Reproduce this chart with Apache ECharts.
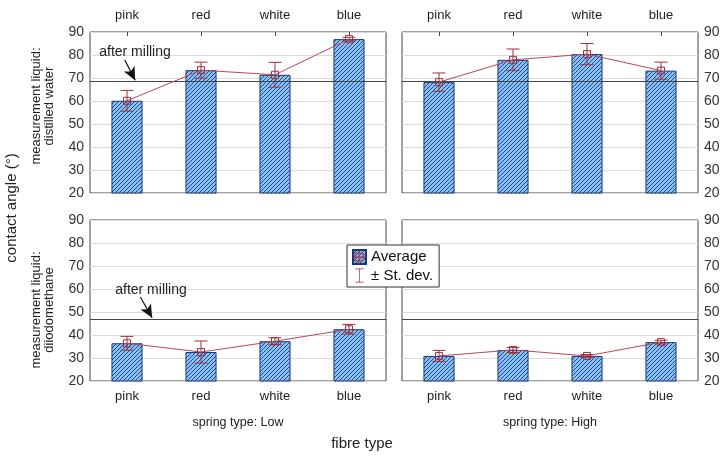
<!DOCTYPE html>
<html><head><meta charset="utf-8">
<script src="https://cdn.jsdelivr.net/npm/echarts@6/dist/echarts.min.js"></script>
<style>html,body{margin:0;padding:0;background:#fff}#c{width:727px;height:459px}</style>
</head><body><div id="c"></div>
<script>
const categories = ['pink', 'red', 'white', 'blue'];
const waterLowMean = [60.1, 73.4, 71.4, 86.9];
const waterLowSd = [4.5, 3.5, 5.4, 0.8];
const waterHighMean = [68.2, 77.9, 80.4, 73.2];
const waterHighSd = [4.0, 4.7, 4.6, 3.7];
const diioLowMean = [36.4, 32.6, 37.3, 42.5];
const diioLowSd = [3.0, 4.8, 1.5, 2.1];
const diioHighMean = [30.9, 33.5, 30.9, 36.9];
const diioHighSd = [2.4, 1.1, 0.6, 0.8];
const afterMilling = [68.4, 46.9];
const yTicks = [20, 90, 10];

const FONT = 'Liberation Sans, Arial, sans-serif';
const chart = echarts.init(document.getElementById('c'));

// hatched pattern
const pc = document.createElement('canvas');
pc.width = 4; pc.height = 4;
const ctx = pc.getContext('2d');
ctx.fillStyle = '#86c3f4';
ctx.fillRect(0, 0, 4, 4);
ctx.strokeStyle = '#27488e';
ctx.lineWidth = 1;
ctx.beginPath();
ctx.moveTo(-1, 5); ctx.lineTo(5, -1);
ctx.moveTo(-3, 3); ctx.lineTo(3, -3);
ctx.moveTo(1, 7); ctx.lineTo(7, 1);
ctx.stroke();
const pattern = { image: pc, repeat: 'repeat' };

const grids = [
  { left: 90, top: 32, width: 296, height: 161 },
  { left: 402, top: 32, width: 296, height: 161 },
  { left: 90, top: 220, width: 296, height: 161 },
  { left: 402, top: 220, width: 296, height: 161 }
].map(g => Object.assign({ show: true, borderColor: '#444', borderWidth: 1, backgroundColor: '#fff' }, g));

const panels = [
  { mean: waterLowMean, sd: waterLowSd, mill: afterMilling[0] },
  { mean: waterHighMean, sd: waterHighSd, mill: afterMilling[0] },
  { mean: diioLowMean, sd: diioLowSd, mill: afterMilling[1] },
  { mean: diioHighMean, sd: diioHighSd, mill: afterMilling[1] }
];

const xAxis = [], yAxis = [], series = [];
panels.forEach((p, i) => {
  const top = i < 2;
  xAxis.push({
    type: 'category', gridIndex: i, data: categories, position: top ? 'top' : 'bottom',
    axisLine: { show: false },
    axisTick: { show: true, inside: true, alignWithLabel: true, length: 4, lineStyle: { color: '#444' } },
    axisLabel: { color: '#222', fontSize: 13, fontFamily: FONT, margin: top ? 10 : 9 }
  });
  yAxis.push({
    type: 'value', gridIndex: i, min: yTicks[0], max: yTicks[1], interval: yTicks[2],
    position: (i % 2 === 0) ? 'left' : 'right',
    axisLine: { show: false }, axisTick: { show: false },
    axisLabel: { color: '#333', fontSize: 14, fontFamily: FONT, margin: 6 },
    splitLine: { show: true, lineStyle: { color: '#dcdcdc', width: 1 } }
  });
});
// hidden value axes for annotations
[0, 2].forEach(g => {
  xAxis.push({ type: 'value', gridIndex: g, min: -0.5, max: 3.5, show: false });
});

panels.forEach((p, i) => {
  series.push({
    name: 'Average', type: 'bar', xAxisIndex: i, yAxisIndex: i,
    data: p.mean, barWidth: '42%',
    itemStyle: { color: pattern, borderColor: '#1b3570', borderWidth: 1 },
    markLine: {
      silent: true, symbol: 'none', label: { show: false },
      lineStyle: { color: '#444', width: 1.2, type: 'solid' },
      data: [{ yAxis: p.mill }]
    },
    z: 2
  });
  series.push({
    name: '± St. dev.', type: 'custom', xAxisIndex: i, yAxisIndex: i,
    itemStyle: { color: '#a0303c' },
    data: p.mean.map((m, k) => [k, m, p.sd[k]]),
    renderItem: function (params, api) {
      const x = api.value(0), m = api.value(1), s = api.value(2);
      const t = api.coord([x, m + s]), b = api.coord([x, m - s]);
      const hw = 6.5;
      const st = { stroke: '#a0303c', lineWidth: 1 };
      return { type: 'group', children: [
        { type: 'line', shape: { x1: t[0], y1: t[1], x2: b[0], y2: b[1] }, style: st },
        { type: 'line', shape: { x1: t[0] - hw, y1: t[1], x2: t[0] + hw, y2: t[1] }, style: st },
        { type: 'line', shape: { x1: b[0] - hw, y1: b[1], x2: b[0] + hw, y2: b[1] }, style: st }
      ]};
    },
    z: 4
  });
  series.push({
    name: 'mean', type: 'line', xAxisIndex: i, yAxisIndex: i,
    data: p.mean, symbol: 'rect', symbolSize: 7, showSymbol: true,
    lineStyle: { color: '#b5485a', width: 1 },
    itemStyle: { color: 'rgba(255,255,255,0)', borderColor: '#a0303c', borderWidth: 1 },
    z: 5
  });
});

// arrows
const arrows = [
  { g: 0, xi: 4, yi: 0, from: [-0.03, 77.8], to: [0.11, 69.0] },
  { g: 2, xi: 5, yi: 2, from: [0.18, 56.5], to: [0.34, 47.5] }
];
arrows.forEach(a => {
  series.push({
    type: 'scatter', xAxisIndex: a.xi, yAxisIndex: a.yi, data: [a.from], symbolSize: 0, silent: true,
    markLine: {
      silent: true, symbol: ['none', 'arrow'], symbolSize: [9, 13],
      label: { show: false },
      lineStyle: { color: '#111', width: 1.2, type: 'solid' },
      data: [[{ coord: a.from }, { coord: a.to }]]
    },
    z: 6
  });
});

const txt = (x, y, s, size, extra) => Object.assign({
  type: 'text', x: x, y: y,
  style: { text: s, fill: '#222', font: size + 'px ' + FONT, textAlign: 'center', textVerticalAlign: 'middle' }
}, extra || {});

chart.setOption({
  animation: false,
  grid: grids,
  xAxis: xAxis,
  yAxis: yAxis,
  series: series,
  legend: {
    left: 347, top: 245, orient: 'vertical',
    backgroundColor: '#fff', borderColor: '#333', borderWidth: 1,
    padding: [4, 6, 4, 5], itemGap: 3, itemWidth: 13, itemHeight: 14,
    textStyle: { fontSize: 15, color: '#111', fontFamily: FONT },
    data: [
      { name: 'Average', icon: 'rect' },
      { name: '± St. dev.', icon: 'path://M0,0H12V1H6.5V19H12V20H0V19H5.5V1H0Z' }
    ],
    z: 20
  },
  graphic: [
    txt(12, 208, 'contact angle (°)', 15, { rotation: Math.PI / 2 }),
    txt(43, 106, 'measurement liquid:\ndistilled water', 13, { rotation: Math.PI / 2 }),
    txt(43, 310, 'measurement liquid:\ndiiodomethane', 13, { rotation: Math.PI / 2 }),
    txt(238, 423, 'spring type: Low', 12.5),
    txt(550, 423, 'spring type: High', 12.5),
    txt(362, 444, 'fibre type', 15),
    txt(135, 52, 'after milling', 14, { z: 30 }),
    txt(151, 290, 'after milling', 14, { z: 30 }),
    { type: 'group', z: 100, children: [
      { type: 'rect', shape: { x: 355, y: 253, width: 8, height: 8 }, style: { fill: 'none', stroke: '#a0303c', lineWidth: 1 }, z: 100 },
      { type: 'line', shape: { x1: 359, y1: 250, x2: 359, y2: 264 }, style: { stroke: '#a0303c', lineWidth: 1 }, z: 100 },
      { type: 'line', shape: { x1: 353, y1: 257, x2: 366, y2: 257 }, style: { stroke: '#a0303c', lineWidth: 1 }, z: 100 }
    ]}
  ]
});
</script></body></html>
